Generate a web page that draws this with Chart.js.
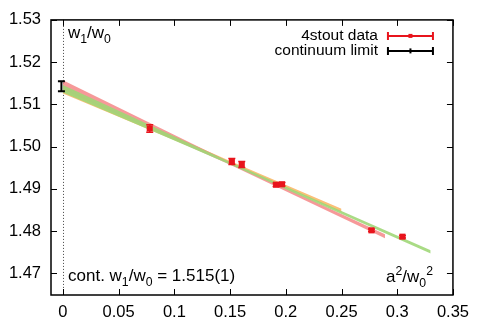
<!DOCTYPE html>
<html>
<head>
<meta charset="utf-8">
<script src="https://cdn.jsdelivr.net/npm/chart.js@4/dist/chart.umd.min.js"></script>
<style>
  html, body { margin: 0; padding: 0; background: #fff; }
</style>
</head>
<body>
<canvas id="c" width="477" height="321"></canvas>
<script>
// 4stout data points (a^2/w0^2, w1/w0, error)
const dataX = [0.0779, 0.1516, 0.1605, 0.1913, 0.1966, 0.2769, 0.3047];
const dataY = [1.5043, 1.4965, 1.4958, 1.4910, 1.4911, 1.4802, 1.4787];
const dataErr = [0.0009, 0.0007, 0.0007, 0.0004, 0.0004, 0.0003, 0.0003];

// continuum limit
const contX = [0];
const contY = [1.5143];
const contErr = [0.0012];

// fit bands (upper / lower edges)
const pinkX = [0, 0.15, 0.289];
const pinkUpper = [1.5157, 1.4963, 1.4793];
const pinkLower = [1.5135, 1.4957, 1.4783];

const greenX = [0, 0.15, 0.33];
const greenUpper = [1.5146, 1.4964, 1.4755];
const greenLower = [1.5128, 1.4958, 1.4747];

const orangeX = [0, 0.15, 0.25];
const orangeUpper = [1.5140, 1.4966, 1.4853];
const orangeLower = [1.5126, 1.4960, 1.4845];

// ticks
const xTicks = [0, 0.05, 0.1, 0.15, 0.2, 0.25, 0.3, 0.35];
const xTickLabels = ['0', '0.05', '0.1', '0.15', '0.2', '0.25', '0.3', '0.35'];
const yTicks = [1.47, 1.48, 1.49, 1.50, 1.51, 1.52, 1.53];
const yTickLabels = ['1.47', '1.48', '1.49', '1.50', '1.51', '1.52', '1.53'];

const RED = '#e8141c';
const FONT = '"Liberation Sans", Arial, sans-serif';

const pts = (xs, ys) => xs.map((v, i) => ({ x: v, y: ys[i] }));

// draws text pieces with sub/superscripts, returns width
function richText(ctx, parts, x, y, size, measureOnly) {
    let cx = x;
    parts.forEach(p => {
        const s = p.s ? size * 0.72 : size;
        ctx.font = s + 'px ' + FONT;
        const dy = p.s === 'sub' ? size * 0.32 : (p.s === 'sup' ? -size * 0.42 : 0);
        if (!measureOnly) ctx.fillText(p.t, cx, y + dy);
        cx += ctx.measureText(p.t).width;
    });
    return cx - x;
}

function errBar(ctx, px, pTop, pBot, cap) {
    ctx.beginPath();
    ctx.moveTo(px, pTop); ctx.lineTo(px, pBot);
    ctx.moveTo(px - cap, pTop); ctx.lineTo(px + cap, pTop);
    ctx.moveTo(px - cap, pBot); ctx.lineTo(px + cap, pBot);
    ctx.stroke();
}

const gnuplotFrame = {
    id: 'gnuplotFrame',
    beforeDatasetsDraw(chart) {
        const { ctx, chartArea: a, scales: { x } } = chart;
        const x0 = Math.round(x.getPixelForValue(0)) + 0.5;
        ctx.save();
        ctx.strokeStyle = '#444';
        ctx.lineWidth = 1;
        ctx.setLineDash([1, 2]);
        ctx.beginPath();
        ctx.moveTo(x0, a.top);
        ctx.lineTo(x0, a.bottom);
        ctx.stroke();
        ctx.restore();
    },
    afterDatasetsDraw(chart) {
        const { ctx, chartArea: a, scales: { x, y } } = chart;
        ctx.save();

        // error bars
        ctx.lineWidth = 1.5;
        ctx.strokeStyle = RED;
        dataX.forEach((v, i) => {
            const px = x.getPixelForValue(v);
            errBar(ctx, px, y.getPixelForValue(dataY[i] + dataErr[i]), y.getPixelForValue(dataY[i] - dataErr[i]), 3.5);
        });
        ctx.strokeStyle = '#000';
        ctx.lineWidth = 2;
        contX.forEach((v, i) => {
            const px = x.getPixelForValue(v) - 1.5;
            errBar(ctx, px, y.getPixelForValue(contY[i] + contErr[i]), y.getPixelForValue(contY[i] - contErr[i]), 3.5);
        });

        // frame
        ctx.strokeStyle = '#000';
        ctx.lineWidth = 1.5;
        ctx.strokeRect(a.left, a.top, a.right - a.left, a.bottom - a.top);

        // inward ticks on all sides
        ctx.lineWidth = 1;
        ctx.beginPath();
        const tl = 6;
        xTicks.forEach(v => {
            const px = Math.round(x.getPixelForValue(v)) + 0.5;
            ctx.moveTo(px, a.bottom); ctx.lineTo(px, a.bottom - tl);
            ctx.moveTo(px, a.top); ctx.lineTo(px, a.top + tl);
        });
        yTicks.forEach(v => {
            const py = Math.round(y.getPixelForValue(v)) + 0.5;
            ctx.moveTo(a.left, py); ctx.lineTo(a.left + tl, py);
            ctx.moveTo(a.right, py); ctx.lineTo(a.right - tl, py);
        });
        ctx.stroke();

        // legend
        ctx.font = '15.5px ' + FONT;
        ctx.textAlign = 'right';
        ctx.textBaseline = 'middle';
        ctx.fillStyle = '#000';
        const rows = [
            { text: '4stout data', color: RED, y: a.top + 16 },
            { text: 'continuum limit', color: '#000', y: a.top + 31 }
        ];
        rows.forEach((r, i) => {
            ctx.fillText(r.text, a.right - 75, r.y);
            const x1 = a.right - 65, x2 = a.right - 20, mid = (x1 + x2) / 2;
            ctx.strokeStyle = r.color;
            ctx.lineWidth = 2;
            ctx.beginPath();
            ctx.moveTo(x1, r.y); ctx.lineTo(x2, r.y);
            ctx.moveTo(x1, r.y - 4); ctx.lineTo(x1, r.y + 4);
            ctx.moveTo(x2, r.y - 4); ctx.lineTo(x2, r.y + 4);
            ctx.stroke();
            ctx.fillStyle = r.color;
            if (i === 0) ctx.fillRect(mid - 2, r.y - 2, 4, 4);
            else ctx.fillRect(mid - 1, r.y - 2.5, 2, 5);
            ctx.fillStyle = '#000';
        });

        // labels
        ctx.textAlign = 'left';
        ctx.textBaseline = 'alphabetic';
        ctx.fillStyle = '#000';
        const lbl = 17;
        richText(ctx, [{ t: 'w' }, { t: '1', s: 'sub' }, { t: '/w' }, { t: '0', s: 'sub' }], a.left + 17, a.top + 18, lbl);
        richText(ctx, [{ t: 'cont. w' }, { t: '1', s: 'sub' }, { t: '/w' }, { t: '0', s: 'sub' }, { t: ' = 1.515(1)' }], a.left + 17, a.bottom - 14, lbl);
        const xl = [{ t: 'a' }, { t: '2', s: 'sup' }, { t: '/w' }, { t: '0', s: 'sub' }, { t: '2', s: 'sup' }];
        const wA = richText(ctx, xl, 0, 0, lbl, true);
        richText(ctx, xl, a.right - 20 - wA, a.bottom - 13, lbl);

        ctx.restore();
    }
};

const band = (xs, up, lo, color, order) => [
    { data: pts(xs, up), showLine: true, borderWidth: 0, pointRadius: 0, fill: false, order: order },
    { data: pts(xs, lo), showLine: true, borderWidth: 0, pointRadius: 0, fill: '-1', backgroundColor: color, order: order }
];

const tickFont = { family: FONT, size: 16.5 };

new Chart(document.getElementById('c').getContext('2d'), {
    type: 'scatter',
    data: {
        datasets: [
            {
                label: '4stout data',
                data: pts(dataX, dataY),
                pointStyle: 'rect',
                pointRadius: 4.3,
                pointBorderWidth: 0,
                pointBackgroundColor: RED,
                order: 0
            },
            {
                label: 'continuum limit',
                data: pts(contX, contY),
                pointRadius: 0,
                order: 0
            },
            ...band(orangeX, orangeUpper, orangeLower, 'rgba(250, 180, 95, 0.85)', 3),
            ...band(pinkX, pinkUpper, pinkLower, 'rgba(245, 135, 135, 0.85)', 2),
            ...band(greenX, greenUpper, greenLower, 'rgba(160, 215, 120, 0.9)', 1)
        ]
    },
    options: {
        responsive: false,
        animation: false,
        layout: { padding: { left: 0, top: 14, right: 23, bottom: 0 } },
        plugins: {
            legend: { display: false },
            tooltip: { enabled: false }
        },
        scales: {
            x: {
                type: 'linear',
                min: -0.0107,
                max: 0.35,
                afterBuildTicks: s => { s.ticks = xTicks.map(v => ({ value: v })); },
                afterFit: s => { s.height = 26; },
                grid: { display: false, drawTicks: false },
                border: { display: false },
                ticks: {
                    padding: 8,
                    color: '#000',
                    font: tickFont,
                    maxRotation: 0,
                    callback: v => xTickLabels[xTicks.findIndex(t => Math.abs(t - v) < 1e-9)]
                }
            },
            y: {
                min: 1.4649,
                max: 1.53,
                afterBuildTicks: s => { s.ticks = yTicks.map(v => ({ value: v })); },
                afterFit: s => { s.width = 51; },
                grid: { display: false, drawTicks: false },
                border: { display: false },
                ticks: {
                    padding: 10,
                    color: '#000',
                    font: tickFont,
                    callback: v => yTickLabels[yTicks.findIndex(t => Math.abs(t - v) < 1e-9)]
                }
            }
        }
    },
    plugins: [gnuplotFrame]
});
</script>
</body>
</html>
